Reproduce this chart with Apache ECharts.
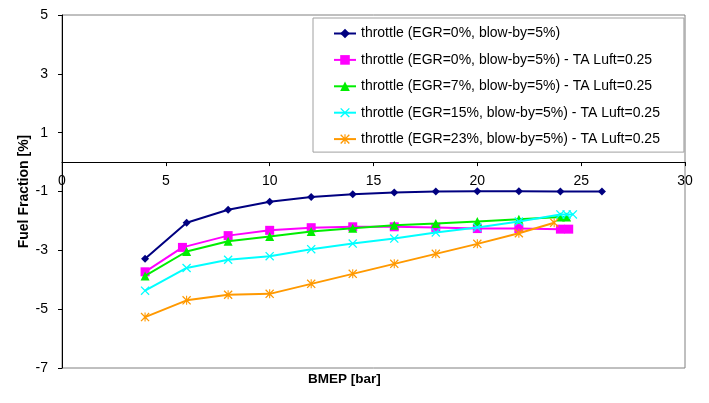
<!DOCTYPE html>
<html>
<head>
<meta charset="utf-8">
<script src="https://cdn.jsdelivr.net/npm/echarts@6/dist/echarts.min.js"></script>
<style>
html,body{margin:0;padding:0;background:#fff;}
#main{width:709px;height:403px;}
</style>
</head>
<body>
<div id="main"></div>
<script>
// ---- data ----
const seriesNames = [
  'throttle (EGR=0%, blow-by=5%)',
  'throttle (EGR=0%, blow-by=5%) - TA Luft=0.25',
  'throttle (EGR=7%, blow-by=5%) - TA Luft=0.25',
  'throttle (EGR=15%, blow-by=5%) - TA Luft=0.25',
  'throttle (EGR=23%, blow-by=5%) - TA Luft=0.25'
];
const x1 = [4, 6, 8, 10, 12, 14, 16, 18, 20, 22, 24, 26];
const y1 = [-3.29, -2.06, -1.62, -1.35, -1.19, -1.09, -1.03, -1.0, -0.99, -0.99, -1.0, -1.0];
const x2 = [4, 5.8, 8, 10, 12, 14, 16, 18, 20, 22, 24, 24.4];
const y2 = [-3.73, -2.9, -2.5, -2.32, -2.23, -2.2, -2.2, -2.22, -2.26, -2.26, -2.28, -2.28];
const x3 = [4, 6, 8, 10, 12, 14, 16, 18, 20, 22, 24, 24.3];
const y3 = [-3.87, -3.04, -2.69, -2.53, -2.36, -2.25, -2.15, -2.09, -2.02, -1.94, -1.87, -1.87];
const x4 = [4, 6, 8, 10, 12, 14, 16, 18, 20, 22, 24, 24.3, 24.6];
const y4 = [-4.37, -3.6, -3.32, -3.2, -2.96, -2.77, -2.6, -2.39, -2.22, -2.02, -1.78, -1.78, -1.78];
const x5 = [4, 6, 8, 10, 12, 14, 16, 18, 20, 22, 23.7];
const y5 = [-5.27, -4.7, -4.51, -4.48, -4.14, -3.8, -3.46, -3.12, -2.78, -2.42, -2.06];
const yTickValues = [-7, -5, -3, -1, 1, 3, 5];

const colors = ['#000080', '#FF00FF', '#00EE00', '#00FFFF', '#FF9900'];
const X_PATH = 'path://M0,1 L1,0 L5,4 L9,0 L10,1 L6,5 L10,9 L9,10 L5,6 L1,10 L0,9 L4,5 Z';
const STAR_PATH = 'path://M0,1 L1,0 L5,4 L9,0 L10,1 L6,5 L10,9 L9,10 L5,6 L1,10 L0,9 L4,5 Z M4.4,0 L5.6,0 L5.6,10 L4.4,10 Z';
const symbols = ['diamond', 'rect', 'triangle', X_PATH, STAR_PATH];
const symbolSizes = [8, 9, 9, 9, 9];

function pairs(xs, ys) { return xs.map((x, i) => [x, ys[i]]); }
const allData = [pairs(x1, y1), pairs(x2, y2), pairs(x3, y3), pairs(x4, y4), pairs(x5, y5)];

const chart = echarts.init(document.getElementById('main'), null, {renderer: 'canvas'});
const font = 'Liberation Sans, Arial, sans-serif';

const gridTop = 15, gridBottom = 35, chartH = 403;
const yMin = -7, yMax = 5;
// x axis crosses the y axis at value 0: shift the bottom axis up to that level
const plotH = chartH - gridTop - gridBottom;
const xAxisOffset = -plotH * (0 - yMin) / (yMax - yMin);

chart.setOption({
  animation: false,
  backgroundColor: '#fff',
  textStyle: {fontFamily: font},
  grid: {
    left: 62, right: 24, top: gridTop, bottom: gridBottom,
    show: true, borderColor: '#808080', borderWidth: 1, backgroundColor: '#fff'
  },
  legend: {
    orient: 'vertical',
    left: 313, top: 18,
    padding: [8.5, 24, 6, 20],
    itemWidth: 22, itemHeight: 12, itemGap: 12.4,
    backgroundColor: '#fff',
    borderColor: '#a0a0a0', borderWidth: 1, borderRadius: 0,
    textStyle: {fontFamily: font, fontSize: 14, color: '#000'},
    data: seriesNames
  },
  xAxis: {
    type: 'value', min: 0, max: 30, interval: 5,
    offset: xAxisOffset,
    axisLine: {onZero: false, lineStyle: {color: '#000', width: 1}},
    axisTick: {show: true, length: 4, inside: false, lineStyle: {color: '#000'}},
    axisLabel: {fontSize: 14, color: '#000', margin: 12, fontFamily: font},
    splitLine: {show: false}
  },
  yAxis: {
    type: 'value', min: yMin, max: yMax, interval: 1,
    name: 'Fuel Fraction [%]', nameLocation: 'middle', nameGap: 31, nameRotate: 90,
    nameMoveOverlap: false,
    nameTextStyle: {fontSize: 14, fontWeight: 'bold', color: '#000', fontFamily: font},
    axisLine: {show: true, onZero: false, lineStyle: {color: '#000', width: 1}},
    axisTick: {show: true, length: 4, customValues: yTickValues, lineStyle: {color: '#000'}},
    axisLabel: {fontSize: 14, color: '#000', margin: 14, customValues: yTickValues, fontFamily: font},
    splitLine: {show: false}
  },
  graphic: [{
    type: 'text', left: 308, top: 372,
    style: {text: 'BMEP [bar]', font: 'bold 13.5px ' + font, fill: '#000'}
  }],
  series: allData.map((d, i) => ({
    name: seriesNames[i],
    type: 'line',
    data: d,
    symbol: symbols[i],
    symbolSize: symbolSizes[i],
    showAllSymbol: true,
    color: colors[i],
    lineStyle: {color: colors[i], width: 2},
    itemStyle: {color: colors[i]},
    z: 2 + i
  }))
});
</script>
</body>
</html>
